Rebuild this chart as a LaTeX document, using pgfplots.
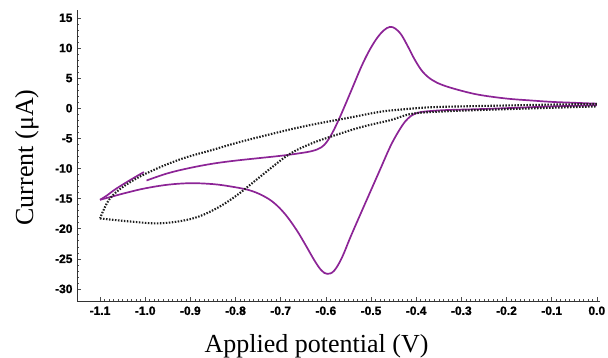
\documentclass[border=0pt]{standalone}
\usepackage{pgfplots}
\pgfplotsset{compat=1.18}
\usepackage{fontspec}
\setmainfont{Liberation Serif}
\newfontfamily\arialfont{Liberation Sans}[FakeBold=1.2]
\definecolor{cvpurple}{RGB}{140,36,150}
\definecolor{dotgray}{RGB}{30,30,30}
\begin{document}
\begin{tikzpicture}[x=1pt,y=1pt]
\useasboundingbox (0,0) rectangle (608,358);
\begin{axis}[
  at={(77pt,57pt)}, anchor=south west,
  scale only axis, width=523pt, height=291pt,
  xmin=-1.151, xmax=0.007, ymin=-32, ymax=16.3,
  axis lines=left, axis line style={-, draw=black!80, line width=0.7pt},
  xtick={-1.1,-1.0,...,0.05}, ytick={-30,-25,...,15},
  minor x tick num=9, minor y tick num=4,
  tick align=inside,
  major tick length=4pt, minor tick length=2pt,
  tick style={draw=black!70, line width=0.5pt},
  /pgf/number format/assume math mode=true,
  ticklabel style={font=\arialfont\bfseries\fontsize{12}{14}\selectfont},
  xticklabel style={/pgf/number format/fixed, /pgf/number format/fixed zerofill, /pgf/number format/precision=1, yshift=-2pt},
  yticklabel style={xshift=-1pt},
  clip=false,
]
% purple: return branch through anodic peak
\addplot[cvpurple, line width=1.7pt, smooth, tension=0.6] coordinates {
(-0.997,-12.0) (-0.95,-10.8) (-0.90,-9.9) (-0.85,-9.2) (-0.80,-8.7) (-0.75,-8.3)
(-0.70,-7.9) (-0.66,-7.5) (-0.63,-7.1) (-0.61,-6.5) (-0.597,-5.5) (-0.585,-4.0)
(-0.572,-2.0) (-0.558,0.4) (-0.54,3.6) (-0.522,6.8) (-0.505,9.4) (-0.488,11.5)
(-0.472,12.9) (-0.458,13.5) (-0.446,13.2) (-0.433,12.2) (-0.418,10.2) (-0.402,7.9)
(-0.385,6.0) (-0.365,4.7) (-0.34,3.8) (-0.30,2.9) (-0.259,2.2) (-0.20,1.6)
(-0.149,1.3) (-0.10,1.05) (-0.05,0.9) (0.0,0.75)
};
% purple: forward branch through cathodic peak
\addplot[cvpurple, line width=1.7pt, smooth, tension=0.6] coordinates {
(0.0,0.5) (-0.10,0.3) (-0.186,0.05) (-0.26,-0.15) (-0.33,-0.3) (-0.365,-0.45)
(-0.39,-0.65) (-0.405,-1.0) (-0.418,-1.7) (-0.432,-3.0) (-0.455,-6.0) (-0.48,-10.2)
(-0.50,-13.6) (-0.52,-17.0) (-0.545,-21.3) (-0.565,-24.9) (-0.582,-27.0)
(-0.597,-27.5) (-0.61,-26.9) (-0.625,-25.3) (-0.645,-22.7) (-0.665,-20.2)
(-0.69,-17.6) (-0.715,-15.7) (-0.74,-14.5) (-0.77,-13.6) (-0.81,-13.0) (-0.85,-12.6)
(-0.90,-12.45) (-0.95,-12.7) (-1.00,-13.3) (-1.04,-14.0) (-1.075,-14.7) (-1.10,-15.2)
};
% purple: short reverse piece
\addplot[cvpurple, line width=1.7pt, smooth, tension=0.6] coordinates {
(-1.10,-15.2) (-1.085,-14.5) (-1.065,-13.4) (-1.035,-12.0) (-1.003,-10.6)
};
% dotted: upper branch
\addplot[dotgray, line width=2.1pt, dash pattern=on 1.5pt off 1.5pt, smooth, tension=0.6] coordinates {
(0.0,0.7) (-0.1,0.6) (-0.2,0.45) (-0.3,0.3) (-0.37,0.15) (-0.43,-0.2) (-0.48,-0.6)
(-0.55,-1.6) (-0.635,-2.8) (-0.70,-3.9) (-0.79,-5.6) (-0.85,-6.9) (-0.923,-8.5)
(-0.997,-10.8) (-1.048,-13.0) (-1.08,-15.2) (-1.10,-18.3)
};
% dotted: lower branch
\addplot[dotgray, line width=2.1pt, dash pattern=on 1.5pt off 1.5pt, smooth, tension=0.6] coordinates {
(-1.10,-18.3) (-1.034,-18.8) (-0.967,-19.1) (-0.9,-18.4) (-0.849,-16.9) (-0.798,-14.5)
(-0.731,-10.5) (-0.68,-7.6) (-0.63,-5.8) (-0.58,-4.5) (-0.52,-3.1) (-0.458,-2.0) (-0.407,-0.9)
(-0.33,-0.5) (-0.259,-0.3) (-0.13,0.0) (0.0,0.3)
};
\end{axis}
\node[anchor=base, font=\fontsize{26}{30}\selectfont] at (316.5,5.3) {Applied potential (V)};
\node[anchor=base, rotate=90, font=\fontsize{26}{30}\selectfont] at (33,200.5) {Current (μA)};
\end{tikzpicture}
\end{document}
